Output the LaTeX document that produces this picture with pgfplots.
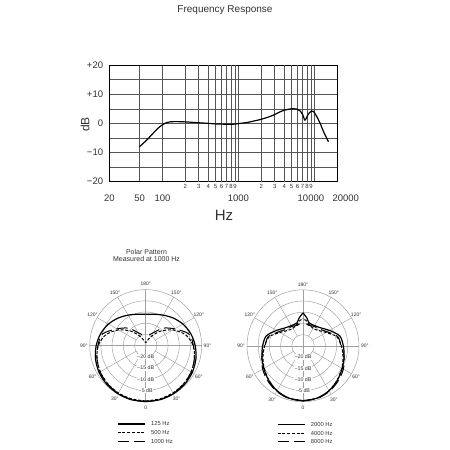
\documentclass[border=0pt]{standalone}
\usepackage{fontspec}
\setmainfont{Liberation Sans}
\usepackage{pgfplots}
\pgfplotsset{compat=1.18}
\usepackage{pgfplotstable}
\usepgfplotslibrary{polar}
\definecolor{gridc}{HTML}{A0A0A0}
\definecolor{frgrid}{HTML}{555555}
\definecolor{txt}{HTML}{333333}

\pgfplotstableread{
f db
50 -8.0
60 -6.1
70 -4.3
80 -2.7
90 -1.4
100 -0.5
110 0.1
125 0.5
150 0.6
200 0.5
300 0.2
400 0.0
500 -0.2
700 -0.3
850 -0.3
1000 -0.1
1300 0.3
1600 0.8
2000 1.4
2500 2.2
3000 3.0
3500 3.9
4000 4.5
4500 4.8
5000 5.0
5800 4.9
6400 4.4
7000 3.0
7500 1.1
8000 2.3
8500 3.5
9200 4.2
9700 4.1
10700 2.4
11900 0.0
13200 -2.9
15300 -6.3
}\frtable

\pgfplotstableread{
a s d l
0 0 -0.3 0
15 0 -0.4 -0.1
30 -0.2 -0.6 -0.4
45 -0.5 -1.0 -0.9
60 -1.0 -1.6 -1.5
75 -1.8 -2.5 -2.5
90 -2.9 -3.8 -3.7
105 -4.2 -6.5 -5.0
120 -5.8 -11 -10.1
135 -7.6 -16 -14
150 -9.3 -20.5 -18.4
165 -10.5 -23 -20.2
180 -11 -23.7 -21
}\polL

\pgfplotstableread{
a s d l
0 -0.5 -0.5 -0.4
15 -0.8 -0.8 -0.6
30 -1.8 -1.8 -1.5
45 -3.3 -3.4 -2.8
60 -4.8 -5.0 -4.2
75 -6.0 -6.5 -6.0
90 -7.0 -7.9 -8.0
105 -8.0 -9.4 -9.0
120 -11.3 -13.1 -12.5
135 -13.7 -15.3 -14.5
150 -14.6 -16 -15
165 -14.4 -15 -15.5
172 -12.5 -13.8 -15
180 -10.3 -12.8 -14.5
}\polR

\pgfplotsset{
  mypolar/.style={
    scale only axis, width=112pt, height=112pt,
    xmin=0, xmax=360, ymin=0, ymax=25,
    xtick={0,90,180,270}, ytick={5,10,15,20},
    xticklabels={,,,}, yticklabels={,,,},
    major tick length=0pt,
    xmajorgrids=true, ymajorgrids=true,
    grid style={gridc, line width=0.45pt},
    axis line style={gridc, line width=0.5pt},
    clip=false,
  },
  solidc/.style={black, line width=1.2pt, smooth},
  shortd/.style={black, line width=1pt, dash pattern=on 3pt off 1.7pt, smooth},
  longd/.style={black, line width=1pt, dash pattern=on 11pt off 5pt, smooth},
}
\tikzset{
  plab/.style={font=\fontsize{5}{6}\selectfont, text=txt, inner sep=0pt},
  rlab/.style={font=\fontsize{5.3}{6}\selectfont, text=txt, fill=white, inner sep=0.6pt},
}

\newcommand{\polargrid}{%
  \pgfplotsinvokeforeach{30,60,120,150,210,240,300,330}{\draw[gridc, line width=0.45pt] (axis cs:##1,5) -- (axis cs:##1,25);}
  \node[plab] at (axis cs:90,27.4) {180°};
  \node[plab] at (axis cs:270,27.6) {0};
  \node[plab] at (axis cs:120,27.4) {150°};
  \node[plab] at (axis cs:60,27.4) {150°};
  \node[plab] at (axis cs:150,27.4) {120°};
  \node[plab] at (axis cs:30,27.4) {120°};
  \node[plab] at (axis cs:180,27.6) {90°};
  \node[plab] at (axis cs:0,27.6) {90°};
  \node[plab] at (axis cs:210,27.4) {60°};
  \node[plab] at (axis cs:330,27.4) {60°};
  \node[plab] at (axis cs:240,27.6) {30°};
  \node[plab] at (axis cs:300,27.6) {30°};
  \node[rlab] at (axis cs:270,5) {−20 dB};
  \node[rlab] at (axis cs:270,10) {−15 dB};
  \node[rlab] at (axis cs:270,15) {−10 dB};
  \node[rlab] at (axis cs:270,20) {−5 dB};
}

\begin{document}
\begin{tikzpicture}
\useasboundingbox (0,0) rectangle (450pt,450pt);
\fill[white] (0,0) rectangle (450pt,450pt);

% Title
\node[font=\fontsize{10}{12}\selectfont, text=txt] at (225pt,440pt) {Frequency Response};

\begin{axis}[
  at={(109.3pt,268.3pt)}, anchor=south west,
  scale only axis, width=228pt, height=116.7pt,
  xmode=log, xmin=20, xmax=20000, ymin=-20, ymax=20,
  xtick={20,50,100,1000,10000,20000},
  xticklabels={20,50,100,1000,\makebox[0pt]{\kern-7pt 10000},\makebox[0pt]{\kern17pt 20000}},
  xminorticks=false,
  extra x ticks={200,300,400,500,600,700,800,900,2000,3000,4000,5000,6000,7000,8000,9000},
  extra x tick labels={2,3,4,5,6,7,8,9,2,3,4,5,6,7,8,9},
  extra x tick style={grid=major, xticklabel shift=2.4pt, xticklabel style={font=\fontsize{6}{7}\selectfont}},
  ytick={-20,-10,0,10,20},
  yticklabels={−20,−10,0,+10,+20},
  minor ytick={-15,-5,5,15},
  xmajorgrids=true, ymajorgrids=true, yminorgrids=true,
  major grid style={frgrid, line width=0.45pt},
  minor grid style={frgrid, line width=0.45pt},
  major tick length=0pt, minor tick length=0pt,
  axis line style={black, line width=0.7pt},
  xticklabel style={font=\fontsize{9.5}{11}\selectfont, text=txt, inner sep=0pt, anchor=north},
  xticklabel shift=13.2pt,
  yticklabel style={font=\fontsize{9.5}{11}\selectfont, text=txt, inner sep=0pt, anchor=east},
  yticklabel shift=6pt,
  clip=false,
]
\addplot[black, line width=1.2pt, smooth] table[x=f, y=db] {\frtable};
\node[font=\fontsize{12}{14}\selectfont, text=txt, rotate=90] at (axis description cs:-0.1066,0.49) {dB};
\node[font=\fontsize{15}{18}\selectfont, text=txt] at (axis description cs:0.503,-0.29) {Hz};
\end{axis}

% Polar title
\node[font=\fontsize{7}{7.8}\selectfont, text=txt, align=center] at (146.5pt,194.6pt) {Polar Pattern\\Measured at 1000 Hz};

% Left polar
\begin{polaraxis}[mypolar, at={(145.7pt,104.4pt)}, anchor=center]
\polargrid
\addplot[solidc] table[x expr=270+\thisrow{a}, y expr=\thisrow{s}+25] {\polL};
\addplot[solidc] table[x expr=270-\thisrow{a}, y expr=\thisrow{s}+25] {\polL};
\addplot[shortd] table[x expr=270+\thisrow{a}, y expr=\thisrow{d}+25] {\polL};
\addplot[shortd] table[x expr=270-\thisrow{a}, y expr=\thisrow{d}+25] {\polL};
\addplot[longd] table[x expr=270+\thisrow{a}, y expr=\thisrow{l}+25] {\polL};
\addplot[longd] table[x expr=270-\thisrow{a}, y expr=\thisrow{l}+25] {\polL};
\end{polaraxis}

% Right polar
\begin{polaraxis}[mypolar, at={(303pt,104.2pt)}, anchor=center]
\polargrid
\addplot[solidc] table[x expr=270+\thisrow{a}, y expr=\thisrow{s}+25] {\polR};
\addplot[solidc] table[x expr=270-\thisrow{a}, y expr=\thisrow{s}+25] {\polR};
\addplot[shortd] table[x expr=270+\thisrow{a}, y expr=\thisrow{d}+25] {\polR};
\addplot[shortd] table[x expr=270-\thisrow{a}, y expr=\thisrow{d}+25] {\polR};
\addplot[longd] table[x expr=270+\thisrow{a}, y expr=\thisrow{l}+25] {\polR};
\addplot[longd] table[x expr=270-\thisrow{a}, y expr=\thisrow{l}+25] {\polR};
\end{polaraxis}

% Legends
\begin{scope}[every node/.style={font=\fontsize{5.8}{7}\selectfont, text=txt, anchor=west, inner sep=0pt}]
\draw[black, line width=1.2pt] (117.7pt,26pt) -- (145pt,26pt);
\node at (151pt,26pt) {125 Hz};
\draw[black, line width=1pt, dash pattern=on 3pt off 1.7pt] (117.7pt,17.3pt) -- (145pt,17.3pt);
\node at (151pt,17.3pt) {500 Hz};
\draw[black, line width=1pt, dash pattern=on 11pt off 5pt] (117.7pt,8.6pt) -- (145pt,8.6pt);
\node at (151pt,8.6pt) {1000 Hz};
\draw[black, line width=1.2pt] (277.7pt,25.5pt) -- (305pt,25.5pt);
\node at (310.7pt,25.5pt) {2000 Hz};
\draw[black, line width=1pt, dash pattern=on 3pt off 1.7pt] (277.7pt,16.8pt) -- (305pt,16.8pt);
\node at (310.7pt,16.8pt) {4000 Hz};
\draw[black, line width=1pt, dash pattern=on 11pt off 5pt] (277.7pt,8pt) -- (305pt,8pt);
\node at (310.7pt,8pt) {8000 Hz};
\end{scope}
\end{tikzpicture}
\end{document}
